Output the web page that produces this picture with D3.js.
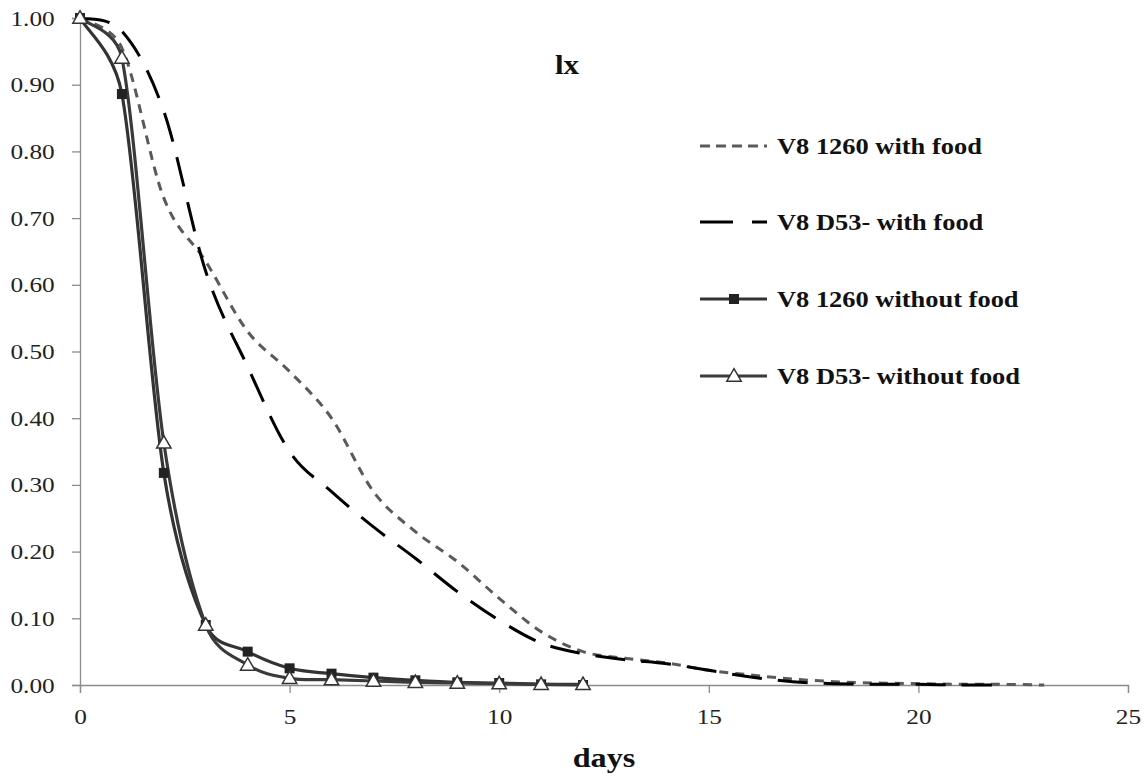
<!DOCTYPE html>
<html>
<head>
<meta charset="utf-8">
<script src="https://cdn.jsdelivr.net/npm/d3@7"></script>
<style>
  body { margin: 0; background: #fff; }
  svg { display: block; }
</style>
</head>
<body>
<script>
// lx survival values
const days = d3.range(0, 24);
const v8_1260_food = [1.00, 0.955, 0.73, 0.635, 0.53, 0.47, 0.40, 0.29, 0.23, 0.185, 0.13, 0.08,
  0.05, 0.04, 0.033, 0.022, 0.015, 0.009, 0.005, 0.003, 0.002, 0.001, 0.001, 0.0];
const v8_d53_food = [1.00, 0.98, 0.86, 0.62, 0.477, 0.35, 0.29, 0.237, 0.19, 0.14, 0.097, 0.063,
  0.047, 0.038, 0.032, 0.022, 0.012, 0.005, 0.002, 0.001, 0.001, 0.0, 0.0];
const v8_1260_nofood = [1.00, 0.886, 0.318, 0.09, 0.05, 0.025, 0.017, 0.011, 0.007, 0.004, 0.003, 0.001, 0.0];
const v8_d53_nofood = [1.00, 0.94, 0.363, 0.09, 0.03, 0.01, 0.008, 0.006, 0.004, 0.003, 0.002, 0.001, 0.001];

const xTicks = [0, 5, 10, 15, 20, 25];
const yTicks = d3.range(0, 11).map(i => i / 10);

const series = [
  { name: "V8 1260 with food", values: v8_1260_food, color: "#5a5a5a", dash: "9,7", legendDash: "10,6", marker: null },
  { name: "V8 D53- with food", values: v8_d53_food, color: "#000", dash: "30,16", legendDash: "33,19", marker: null },
  { name: "V8 1260 without food", values: v8_1260_nofood, color: "#333", dash: null, marker: "square" },
  { name: "V8 D53- without food", values: v8_d53_nofood, color: "#3a3a3a", dash: null, marker: "triangle" }
];

const width = 1148, height = 778;
const serif = "'Liberation Serif', 'Times New Roman', serif";
const stretch = 1.15; // the source text is a bit wide

const x = d3.scaleLinear().domain([0, 25]).range([80, 1128]);
const y = d3.scaleLinear().domain([0, 1]).range([685, 18]);

const svg = d3.select("body").append("svg")
  .attr("width", width)
  .attr("height", height)
  .attr("font-family", serif);

// axes
const xAxis = svg.append("g")
  .attr("transform", `translate(0,${y(0)})`)
  .call(d3.axisBottom(x).tickValues(xTicks).tickSize(8).tickPadding(15).tickFormat(d3.format("d")));
const yAxis = svg.append("g")
  .attr("transform", `translate(${x(0)},0)`)
  .call(d3.axisLeft(y).tickValues(yTicks).tickSize(8).tickPadding(14).tickFormat(d3.format(".2f")));
[xAxis, yAxis].forEach(g => {
  g.attr("font-family", serif).attr("font-size", 22);
  g.select(".domain").attr("stroke", "#8c8c8c").attr("stroke-width", 1.3);
  g.selectAll(".tick line").attr("stroke", "#8c8c8c").attr("stroke-width", 1.3);
  g.selectAll(".tick text").attr("fill", "#222")
    .attr("transform", `scale(${stretch},1)`);
});

// spreadsheet-style smoothed line: catmull-rom handles (1/6),
// shortened so a handle never exceeds half of its segment
function smoothPath(pts) {
  const p = d3.path();
  const n = pts.length;
  const at = i => pts[Math.max(0, Math.min(n - 1, i))];
  const dist = (a, b) => Math.hypot(b[0] - a[0], b[1] - a[1]);
  p.moveTo(pts[0][0], pts[0][1]);
  for (let i = 0; i < n - 1; i++) {
    const p0 = at(i - 1), p1 = at(i), p2 = at(i + 1), p3 = at(i + 2);
    const d12 = dist(p1, p2), d02 = dist(p0, p2), d13 = dist(p1, p3);
    const f1 = d02 > 0 ? Math.min(1 / 6, d12 / (2 * d02)) : 0;
    const f2 = d13 > 0 ? Math.min(1 / 6, d12 / (2 * d13)) : 0;
    p.bezierCurveTo(
      p1[0] + (p2[0] - p0[0]) * f1, p1[1] + (p2[1] - p0[1]) * f1,
      p2[0] - (p3[0] - p1[0]) * f2, p2[1] - (p3[1] - p1[1]) * f2,
      p2[0], p2[1]);
  }
  return p.toString();
}

const plot = svg.append("g");
series.forEach(s => {
  const pts = s.values.map((v, i) => [x(days[i]), y(v)]);
  plot.append("path")
    .attr("d", smoothPath(pts))
    .attr("fill", "none")
    .attr("stroke", s.color)
    .attr("stroke-width", s.marker ? 3.2 : 3)
    .attr("stroke-dasharray", s.dash);
});

const tri = d3.symbol().type(d3.symbolTriangle).size(90);
function drawMarker(g, type, cx, cy) {
  if (type === "square") {
    g.append("rect")
      .attr("x", cx - 5).attr("y", cy - 5)
      .attr("width", 10).attr("height", 10)
      .attr("fill", "#222");
  } else if (type === "triangle") {
    g.append("path")
      .attr("d", tri())
      .attr("transform", `translate(${cx},${cy + 1})`)
      .attr("fill", "#fff")
      .attr("stroke", "#333")
      .attr("stroke-width", 1.5);
  }
}
series.filter(s => s.marker).forEach(s => {
  s.values.forEach((v, i) => drawMarker(plot, s.marker, x(days[i]), y(v)));
});

function label(txt, tx, ty, size, anchor) {
  svg.append("text")
    .attr("transform", `translate(${tx},${ty}) scale(${stretch},1)`)
    .attr("text-anchor", anchor)
    .attr("font-size", size)
    .attr("font-weight", "bold")
    .attr("fill", "#111")
    .text(txt);
}

label("lx", 567, 74, 27, "middle");
label("days", 604, 767, 28, "middle");

// legend
const rowY = [146, 222, 299, 376];
series.forEach((s, i) => {
  const ly = rowY[i];
  svg.append("line")
    .attr("x1", 700).attr("x2", 767)
    .attr("y1", ly).attr("y2", ly)
    .attr("stroke", s.color)
    .attr("stroke-width", 3)
    .attr("stroke-dasharray", s.legendDash || null);
  if (s.marker) drawMarker(svg, s.marker, 734, ly);
  label(s.name, 777, ly + 8, 23, "start");
});
</script>
</body>
</html>
